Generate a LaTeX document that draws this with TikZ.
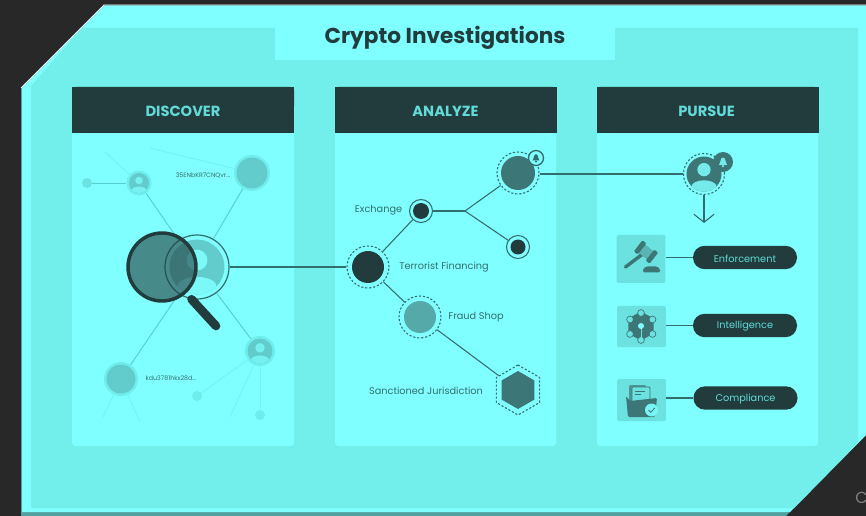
\documentclass[tikz,border=0pt]{standalone}
\usepackage{fontspec}
\usepackage{tikz}
\usetikzlibrary{arrows.meta,shapes.geometric}
\setmainfont{Poppins}
\definecolor{backdark}{HTML}{282828}
\definecolor{bandcol}{HTML}{7FFFFF}
\definecolor{basecol}{HTML}{72EFEB}
\definecolor{headcol}{HTML}{223C3D}
\definecolor{headtext}{HTML}{62DAD8}
\definecolor{linecol}{HTML}{336E6E}
\definecolor{midcol}{HTML}{3D7676}
\definecolor{softcol}{HTML}{55A9A9}
\definecolor{palecol}{HTML}{62CCCC}
\definecolor{halocol}{HTML}{6FEDED}
\definecolor{faintcol}{HTML}{58CFCF}
\definecolor{fadecol}{HTML}{74F3F3}
\definecolor{iconbox}{HTML}{6CE2E0}
\newcommand{\pxfont}[1]{\fontsize{#1}{#1}\selectfont}
\newcommand{\personicon}[3]{%
  \begin{scope}[shift={(#1)},scale=#2]
    \clip (0,0) circle (1);
    \fill[#3] (0,-0.25) circle (0.38);
    \fill[#3] (0,0.72) ellipse (0.72 and 0.36);
  \end{scope}}
\newcommand{\bellicon}[3]{%
  \begin{scope}[shift={(#1)},scale=#2]
    \fill[#3] (-0.6,0.4) .. controls (-0.3,0.2) and (-0.45,-0.6) .. (0,-0.65)
      .. controls (0.45,-0.6) and (0.3,0.2) .. (0.6,0.4) -- cycle;
    \fill[#3] (0,0.58) circle (0.18);
  \end{scope}}
\tikzset{
  panel/.style={fill=bandcol,rounded corners=2.5pt},
  headbar/.style={fill=headcol,minimum width=166.5pt,minimum height=34.5pt,inner sep=0pt},
  headtxt/.style={text=headtext,font=\bfseries\pxfont{11},inner sep=0pt},
  dot/.style={circle,inner sep=0pt,minimum size=#1*0.75pt},
  ringdash/.style={draw=linecol,dashed,dash pattern=on 1.6pt off 1.4pt,line width=0.8pt},
  ringsolid/.style={draw=linecol,line width=0.8pt},
  link/.style={draw=linecol,line width=0.8pt},
  faint/.style={draw=faintcol,line width=0.7pt},
  fadeline/.style={draw=fadecol,line width=0.7pt},
  lab/.style={text=linecol,font=\pxfont{7.3},inner sep=0pt},
  tinylab/.style={text=linecol,font=\pxfont{4.7},inner sep=0pt},
  pill/.style={fill=headcol,rounded corners=8.6pt,minimum width=78pt,minimum height=17.5pt,inner sep=0pt},
  pilltxt/.style={text=headtext,font=\pxfont{7.3},inner sep=0pt},
  iconsq/.style={fill=iconbox,rounded corners=1pt,inner sep=0pt,minimum width=36.5pt},
}
\begin{document}
\begin{tikzpicture}[x=0.75pt,y=-0.75pt]
  \useasboundingbox (0,0) rectangle (866,516);
  \clip (0,0) rectangle (866,516);
  \fill[backdark] (0,0) rectangle (866,516);
  % frame
  \fill[midcol!70!bandcol] (21,88) -- (104,5) -- (866,5) -- (866,435) -- (786,516) -- (21,516) -- cycle;
  \fill[bandcol] (22,88) -- (104,6) -- (866,6) -- (866,435) -- (790,512) -- (22,512) -- cycle;
  \draw[white!85!bandcol,line width=0.6pt] (21,88) -- (104,5) -- (866,5);
  \fill[basecol] (31,86) -- (82,28) -- (858,28) -- (858,443) -- (794,508) -- (31,508) -- cycle;
  \node[fill=bandcol,minimum width=255pt,minimum height=38.25pt,inner sep=0pt] (titlebox) at (445,34.5) {};
  \node[text=headcol,font=\bfseries\pxfont{16.2}] (title) at (445,38) {Crypto Investigations};
  % panels
  \fill[panel] (72,87) rectangle (294,446);
  \fill[panel] (335,87) rectangle (556,446);
  \fill[panel] (597,87) rectangle (818,446);
  \fill[headcol,rounded corners=2.5pt] (72,87) rectangle (294,110);
  \fill[headcol,rounded corners=2.5pt] (335,87) rectangle (556,110);
  \fill[headcol,rounded corners=2.5pt] (597,87) rectangle (818,110);
  \node[headbar] (discover) at (183,110) {};
  \node[headbar] (analyze) at (445.5,110) {};
  \node[headbar] (pursue) at (707.5,110) {};
  \node[headtxt] (discovertext) at (183,111.5) {DISCOVER};
  \node[headtxt] (analyzetext) at (445.5,111.5) {ANALYZE};
  \node[headtxt] (pursuetext) at (706.5,111.5) {PURSUE};
  % discover
  \node[dot=64,draw=linecol,line width=0.9pt] (central) at (197,267) {};
  \node[dot=55,fill=palecol] (centralin) at (197,267) {};
  \personicon{central.center}{27.5}{bandcol!88!palecol}
  \node[dot=36,fill=halocol] (walleta) at (252,173) {};
  \node[dot=31,fill=palecol] at (252,173) {};
  \node[dot=25,fill=halocol] (persona) at (139,183) {};
  \node[dot=20,fill=palecol] (personain) at (139,183) {};
  \personicon{personain.center}{10}{bandcol!70!palecol}
  \node[dot=10,fill=halocol!70!palecol] (dota) at (87,183) {};
  \node[dot=30,fill=halocol] (personb) at (260,351) {};
  \node[dot=25,fill=palecol] (personbin) at (260,351) {};
  \personicon{personbin.center}{12.5}{bandcol!70!palecol}
  \node[dot=34,fill=halocol] (walletb) at (121,379) {};
  \node[dot=29,fill=palecol] at (121,379) {};
  \node[dot=10,fill=halocol] (dotb) at (197,396) {};
  \node[dot=10,fill=halocol] (dotc) at (260,415) {};
  \node[tinylab] (walletatext) at (203,175.5) {35ENbKR7CNQvr...};
  \node[tinylab] (walletbtext) at (171,378.5) {kdu3781hkx28d...};
  \coordinate (fadea) at (105,152);
  \coordinate (fadeb) at (150,148);
  \coordinate (fadec) at (103,417);
  \coordinate (faded) at (140,422);
  \coordinate (fadee) at (230,417);
  \draw[faint] (central) -- (walleta);
  \draw[faint] (central) -- (persona);
  \draw[faint] (central) -- (personb);
  \draw[faint] (central) -- (walletb);
  \draw[faint] (dota) -- (persona);
  \draw[fadeline] (persona) -- (fadea);
  \draw[fadeline] (walleta) -- (fadeb);
  \draw[fadeline] (walletb) -- (fadec);
  \draw[fadeline] (walletb) -- (faded);
  \draw[fadeline] (personb) -- (dotb);
  \draw[fadeline] (personb) -- (dotc);
  \draw[fadeline] (personb) -- (fadee);
  \node[dot=68,draw=headcol,line width=2.6pt,fill=headcol,fill opacity=0.6] (lens) at (162,267) {};
  \coordinate (handle) at (216,326);
  \draw[draw=headcol,line width=6.5pt,line cap=round,shorten <=6pt] (lens) -- (handle);
  % analyze
  \node[dot=42,ringdash] (terror) at (368,267) {};
  \node[dot=32,fill=headcol] at (368,267) {};
  \node[dot=23,ringsolid] (exchange) at (421,211) {};
  \node[dot=16,fill=headcol] at (421,211) {};
  \coordinate (branch) at (465,211);
  \node[dot=42,ringdash] (alert) at (518,173) {};
  \node[dot=34,fill=midcol] at (518,173) {};
  \node[dot=15,fill=bandcol,draw=linecol,line width=1pt] (alertbell) at (536,158) {};
  \bellicon{alertbell.center}{6}{linecol}
  \node[dot=23,ringsolid] (endpoint) at (518,247) {};
  \node[dot=15,fill=headcol] at (518,247) {};
  \node[dot=42,ringdash] (fraud) at (420,317) {};
  \node[dot=32,fill=softcol] at (420,317) {};
  \node[regular polygon,regular polygon sides=6,inner sep=0pt,minimum size=37.5pt,ringdash,shape border rotate=30] (hexring) at (518,390) {};
  \node[regular polygon,regular polygon sides=6,inner sep=0pt,minimum size=28.5pt,fill=midcol,shape border rotate=30] at (518,390) {};
  \node[lab] (exchangetext) at (378.5,210.5) {Exchange};
  \node[lab] (terrortext) at (444,267) {Terrorist Financing};
  \node[lab] (fraudtext) at (476,317.5) {Fraud Shop};
  \node[lab] (hextext) at (426,390.5) {Sanctioned Jurisdiction};
  \draw[link] (central) -- (terror);
  \draw[link] (terror) -- (exchange);
  \draw[link] (exchange) -- (branch);
  \draw[link] (branch) -- (alert);
  \draw[link] (branch) -- (endpoint);
  \draw[link] (terror) -- (fraud);
  \draw[link] (fraud) -- (hexring);
  % pursue
  \node[dot=41,ringdash] (target) at (704,174) {};
  \node[dot=35,fill=midcol] (targetin) at (704,174) {};
  \personicon{targetin.center}{17.5}{bandcol!85!midcol}
  \node[dot=20,fill=midcol] (targetbell) at (723,162) {};
  \bellicon{targetbell.center}{7}{bandcol!85!midcol}
  \draw[link] (target -| alert.east) -- (target);
  \coordinate (arrowend) at (704,223);
  \draw[link,-{Straight Barb[length=6pt,width=15pt]}] (target) -- (arrowend);
  \node[iconsq,minimum height=36pt] (gavelbox) at (641,259) {};
  \node[iconsq,minimum height=31pt] (intelbox) at (641.5,326.5) {};
  \node[iconsq,minimum height=31.5pt] (compbox) at (641.5,400) {};
  \node[pill] (enforce) at (745,257.5) {};
  \node[pill] (intel) at (745,325.5) {};
  \node[pill] (comply) at (745.5,398) {};
  \node[pilltxt] (enforcetext) at (745,258.5) {Enforcement};
  \node[pilltxt] (inteltext) at (745,326.5) {Intelligence};
  \node[pilltxt] (complytext) at (745.5,399) {Compliance};
  \draw[link,line width=1pt] (gavelbox.east |- enforce) -- (enforce);
  \draw[link,line width=1pt] (intelbox.east |- intel) -- (intel);
  \draw[link,line width=1pt] (compbox.east |- comply) -- (comply);
  % gavel
  \draw[midcol,line width=2.6pt,line cap=round] (625.5,267) -- (644,253);
  \fill[midcol,rotate around={-38:(646,252)},rounded corners=0.8pt] (637,247) rectangle (655,257);
  \fill[bandcol!45!midcol,rotate around={-38:(646,252)}] (640,247) rectangle (652,257);
  \fill[midcol,rotate around={-38:(646,252)},rounded corners=0.8pt] (636,245) rectangle (641,259);
  \fill[midcol,rotate around={-38:(646,252)},rounded corners=0.8pt] (651,245) rectangle (656,259);
  \fill[midcol,rounded corners=1pt] (643,272.5) -- (643,269) -- (646,266.5) -- (657,266.5) -- (660,269) -- (660,272.5) -- cycle;
  % network icon
  \node[regular polygon,regular polygon sides=6,inner sep=0pt,minimum size=22pt,fill=midcol,shape border rotate=30] (hexicon) at (641,326) {};
  \foreach \ax/\ay in {641/313, 652.5/319.5, 652.5/334, 641/340, 630/334, 630/319.5} {
    \fill[iconbox,draw=midcol,line width=0.5pt] (\ax,\ay) circle (3.4);
  }
  \draw[iconbox,line width=0.5pt] (641,326) -- (641,340);
  \fill[bandcol] (641,326) circle (3);
  % folder icon
  \fill[midcol!70!iconbox,rounded corners=0.8pt] (629,385) rectangle (646,402);
  \fill[iconbox,draw=midcol,line width=0.6pt,rounded corners=0.8pt] (632,387) rectangle (650,404);
  \draw[midcol,line width=0.5pt] (635,391) -- (645,391) (635,394) -- (641,394);
  \fill[midcol,rounded corners=1pt] (626,396) -- (630,401) -- (657,398) -- (655,417) -- (628,417) -- cycle;
  \fill[bandcol!60!iconbox] (651.5,410) circle (6.5);
  \draw[midcol,line width=0.6pt] (648.5,410) -- (650.7,412.3) -- (654.7,408);
  % corner letter
  \node[text=gray,font=\pxfont{12},inner sep=0pt,anchor=west] (cornerc) at (855,498) {C};
\end{tikzpicture}
\end{document}
